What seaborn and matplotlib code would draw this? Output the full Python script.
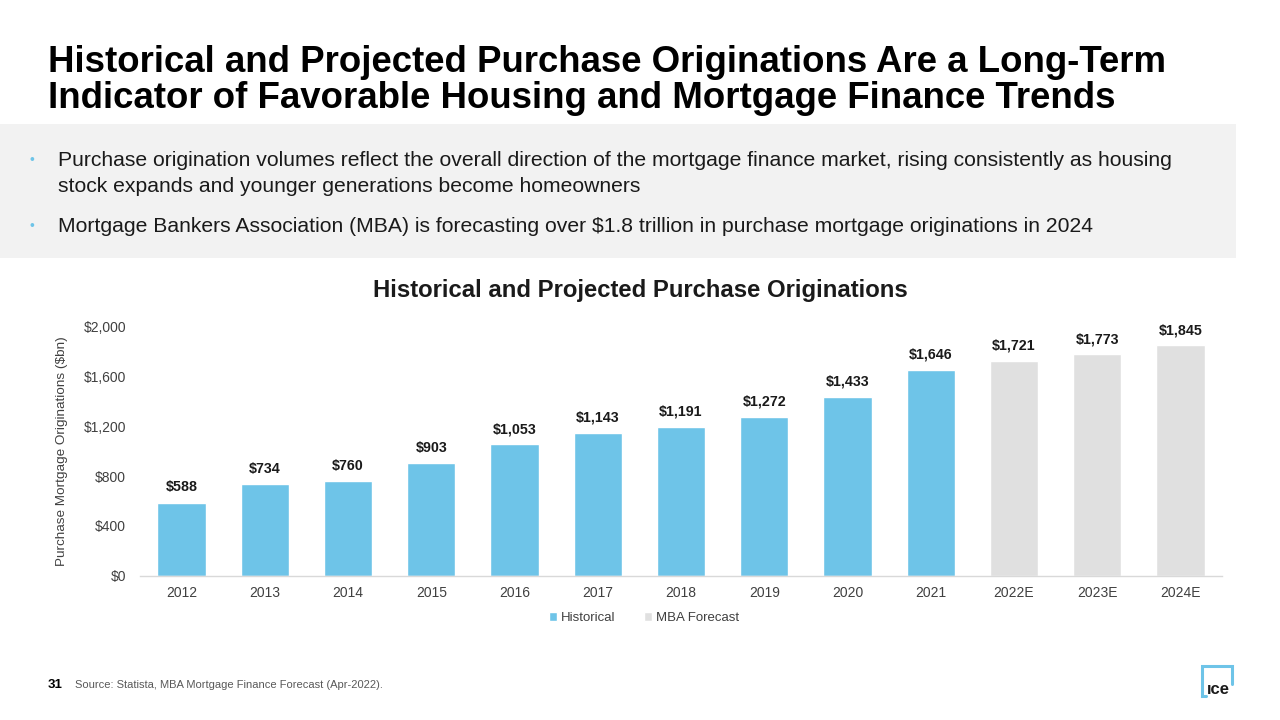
import matplotlib
matplotlib.use("Agg")
import matplotlib.pyplot as plt
import seaborn as sns
import pandas as pd
from matplotlib.lines import Line2D
from matplotlib.patches import Rectangle

years = ["2012", "2013", "2014", "2015", "2016", "2017", "2018", "2019", "2020", "2021", "2022E", "2023E", "2024E"]
values = [588, 734, 760, 903, 1053, 1143, 1191, 1272, 1433, 1646, 1721, 1773, 1845]
series = ["Historical"] * 10 + ["MBA Forecast"] * 3
yticks = [0, 400, 800, 1200, 1600, 2000]

BLUE = "#6EC4E8"
GRAY = "#E0E0E0"

sns.set_theme(style="white")
plt.rcParams['font.family'] = ['Liberation Sans', 'DejaVu Sans']

df = pd.DataFrame({"year": years, "value": values, "series": series})

fig = plt.figure(figsize=(12.8, 7.2), dpi=100)

# Title
fig.text(48/1280, 1 - 62/720, "Historical and Projected Purchase Originations Are a Long-Term",
         fontsize=26.4, fontweight="bold", color="black", va="center", ha="left")
fig.text(48/1280, 1 - 99/720, "Indicator of Favorable Housing and Mortgage Finance Trends",
         fontsize=26.4, fontweight="bold", color="black", va="center", ha="left")

# Gray band
fig.patches.append(Rectangle((0, 1 - 258/720), 1236/1280, 134/720, transform=fig.transFigure,
                             facecolor="#F2F2F2", edgecolor="none", zorder=0))
bullets = [
    (160, "Purchase origination volumes reflect the overall direction of the mortgage finance market, rising consistently as housing"),
    (187, "stock expands and younger generations become homeowners"),
    (226, "Mortgage Bankers Association (MBA) is forecasting over $1.8 trillion in purchase mortgage originations in 2024"),
]
for yy, t in bullets:
    fig.text(58/1280, 1 - yy/720, t, fontsize=15.2, color="#1a1a1a", va="center", ha="left")
for yy in (160, 226):
    fig.text(32/1280, 1 - yy/720, "•", fontsize=10, color="#6EC4E8", va="center", ha="center")

# Chart title
fig.text(640/1280, 1 - 290/720, "Historical and Projected Purchase Originations",
         fontsize=17.2, fontweight="bold", color="#1a1a1a", va="center", ha="center")

ax = fig.add_axes([140/1280, 1 - 576/720, (1222 - 140)/1280, 250/720])
sns.barplot(data=df, x="year", y="value", hue="series", palette={"Historical": BLUE, "MBA Forecast": GRAY},
            dodge=False, width=0.58, ax=ax, legend=False, saturation=1)
ax.set_xlim(-0.5, len(years) - 0.5)
ax.set_ylim(0, 2000)
ax.set_yticks(yticks)
ax.set_yticklabels([f"${v:,}" for v in yticks], fontsize=10, color="#404040")
ax.tick_params(axis="x", labelsize=10, colors="#404040", length=0, pad=7)
ax.tick_params(axis="y", length=0, pad=10)
ax.set_xlabel("")
ax.set_ylabel("Purchase Mortgage Originations ($bn)", fontsize=9.7, color="#404040")
ax.yaxis.set_label_coords(-(140 - 68)/1082, 0.5)
for s in ["top", "right", "left"]:
    ax.spines[s].set_visible(False)
ax.spines["bottom"].set_color("#D9D9D9")
ax.spines["bottom"].set_linewidth(1)
ax.grid(False)

for i, v in enumerate(values):
    ax.annotate(f"${v:,}", (i, v), xytext=(0, 6), textcoords="offset points",
                ha="center", va="bottom", fontsize=10.3, fontweight="bold", color="#1a1a1a")

handles = [Rectangle((0, 0), 1, 1, facecolor=BLUE), Rectangle((0, 0), 1, 1, facecolor=GRAY)]
fig.legend(handles, ["Historical", "MBA Forecast"], loc="center", bbox_to_anchor=(644/1280, 1 - 618/720),
           ncol=2, frameon=False, fontsize=9.5, handlelength=0.6, handleheight=0.6, handletextpad=0.3,
           columnspacing=2.2, labelcolor="#404040")

# Footer
fig.text(48/1280, 1 - 685/720, "31", fontsize=9.5, fontweight="bold", color="black", va="center", ha="left")
fig.text(75/1280, 1 - 685/720, "Source: Statista, MBA Mortgage Finance Forecast (Apr-2022).",
         fontsize=8, color="#595959", va="center", ha="left")

# ICE logo
lx = [1206, 1202, 1202, 1232, 1232]
ly = [696, 696, 666, 666, 684]
fig.add_artist(Line2D([x/1280 for x in lx], [1 - y/720 for y in ly], transform=fig.transFigure,
                      color="#6EC4E8", linewidth=2.2, solid_joinstyle="miter"))
fig.text(1207/1280, 1 - 690/720, "ıce", fontsize=12, fontweight="bold", color="#1a1a1a",
         va="center", ha="left")

fig.savefig("out.png", dpi=100)
